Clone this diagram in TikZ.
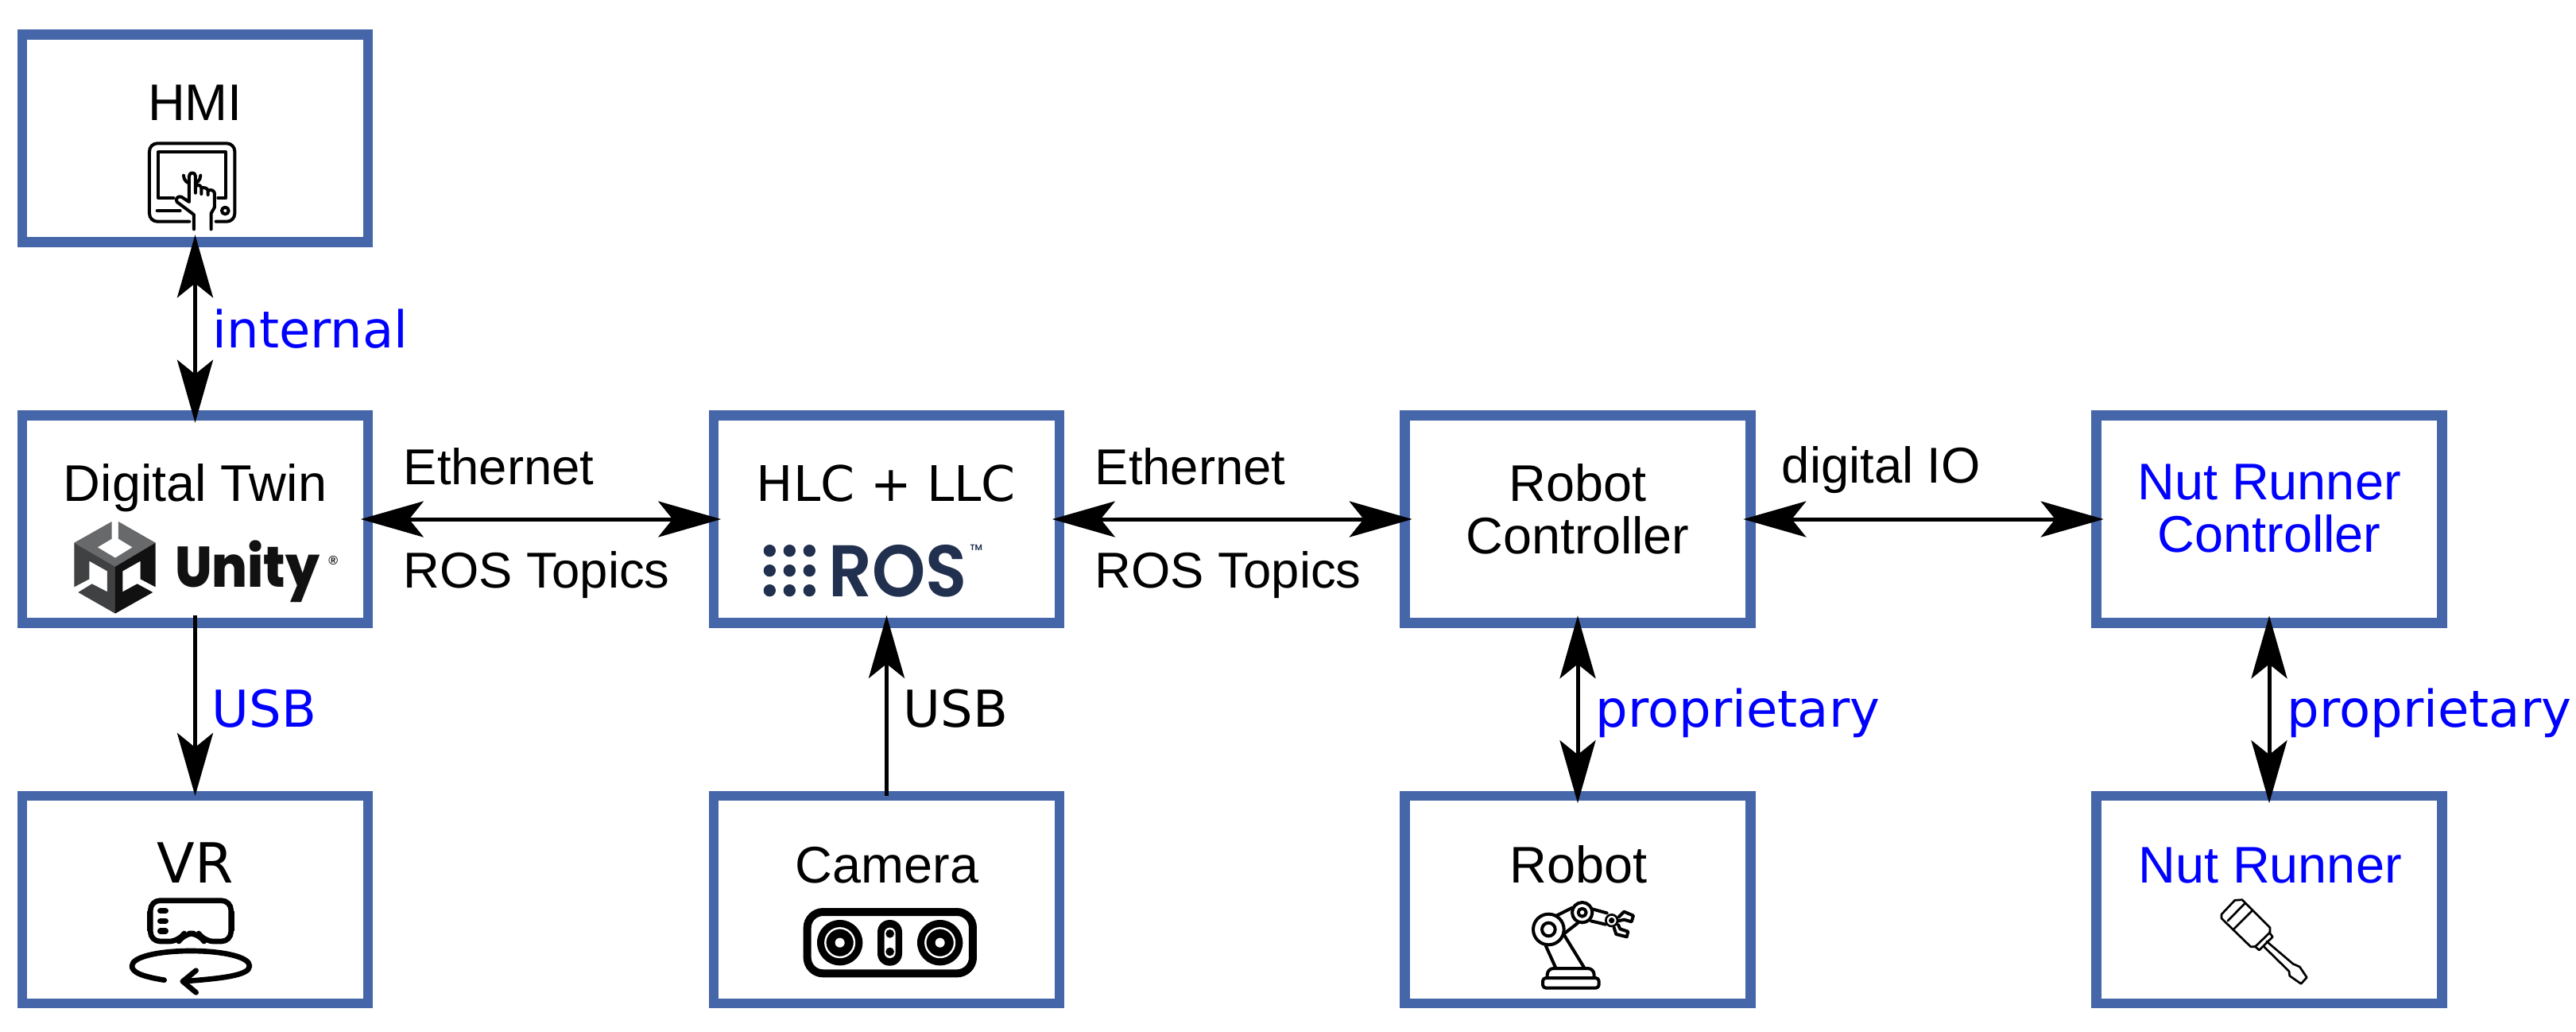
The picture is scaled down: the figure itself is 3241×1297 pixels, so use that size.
\documentclass[tikz,border=0pt]{standalone}
\usepackage{fontspec}
\usepackage{xcolor}
\usetikzlibrary{arrows.meta}
\setmainfont{Liberation Sans}
\newfontfamily\dejavu{DejaVu Sans}
\newfontfamily\unityfont{Poppins ExtraBold}
\newfontfamily\rosfont{Poppins SemiBold}
\definecolor{boxblue}{HTML}{4666AA}
\definecolor{rosblue}{HTML}{22304F}
\definecolor{unitytop}{HTML}{68696B}
\definecolor{unityleft}{HTML}{404143}
\definecolor{unityright}{HTML}{111111}
\newcommand{\sized}[1]{\fontsize{#1}{16.5}\selectfont}
\tikzset{
    boxnode/.style={draw=boxblue, line width=3.125pt, minimum width=108.75pt, minimum height=65.25pt, inner sep=0pt, outer sep=0pt},
    boxtext/.style={inner sep=0pt, anchor=base, font=\sized{16.2}},
    linktext/.style={inner sep=0pt, anchor=base west, font=\sized{15.85}},
    vera/.style={font=\dejavu\sized{16}},
    pending/.style={text=blue},
    link/.style={line width=1.25pt, shorten <=-2.3pt, shorten >=-2.3pt,
        {Stealth[length=19.75pt,width=11.25pt,inset=4.5pt]}-{Stealth[length=19.75pt,width=11.25pt,inset=4.5pt]}},
    uplink/.style={line width=1.25pt, shorten >=-2.4pt, -{Stealth[length=19.75pt,width=11.25pt,inset=4.5pt]}},
    downlink/.style={line width=1.25pt, shorten <=-2.4pt, -{Stealth[length=19.75pt,width=11.25pt,inset=4.5pt]}},
    crop/.style 2 args={shift={(#1,#2)}, x=0.083333pt, y=-0.083333pt},
    icon/.style={line width=#1*0.083333pt, line cap=round, line join=round},
}

\begin{document}
\begin{tikzpicture}[x=0.25pt, y=-0.25pt]
        \useasboundingbox (0,0) rectangle (3241,1297);

        \node[boxnode] (hmi) at (245.5,174) {};
        \node[boxnode] (twin) at (245.5,653) {};
        \node[boxnode] (hlc) at (1115.5,653) {};
        \node[boxnode] (ctrl) at (1985,653) {};
        \node[boxnode] (nutctrl) at (2855,653) {};
        \node[boxnode] (vr) at (245.5,1131.5) {};
        \node[boxnode] (cam) at (1115.5,1131.5) {};
        \node[boxnode] (robot) at (1985,1131.5) {};
        \node[boxnode] (nut) at (2855,1131.5) {};

        \node[boxtext] (hmitext) at (245.5,151.5) {HMI};
        \node[boxtext] (twintext) at (245.5,630.5) {Digital Twin};
        \node[boxtext, font=\dejavu\sized{15.4}] (hlctext) at (1115,630.5) {HLC + LLC};
        \node[boxtext, font=\dejavu\sized{17.4}] (vrtext) at (245.5,1110) {VR};
        \node[boxtext] (camtext) at (1116,1110) {Camera};
        \node[boxtext] (robottext) at (1986,1110) {Robot};
        \node[boxtext, pending] (nuttext) at (2856,1110) {Nut Runner};
        \node[inner sep=0pt, align=center, font=\sized{16.2}] (ctrltext) at (1985,640) {Robot\\Controller};
        \node[inner sep=0pt, align=center, font=\sized{16.2}, pending] (nutctrltext) at (2855,640) {Nut Runner\\Controller};

        \draw[link] (hmi.south) -- (twin.north);
        \draw[downlink] (twin.south) -- (vr.north);
        \draw[uplink] (cam.north) -- (hlc.south);
        \draw[link] (ctrl.south) -- (robot.north);
        \draw[link] (nutctrl.south) -- (nut.north);
        \draw[link] (twin.east) -- (hlc.west);
        \draw[link] (hlc.east) -- (ctrl.west);
        \draw[link] (ctrl.east) -- (nutctrl.west);

        \node[linktext, vera, pending] (internal) at (267,437) {internal};
        \node[linktext, vera, pending] (vrusb) at (266,914) {USB};
        \node[linktext, vera] (camusb) at (1136,914) {USB};
        \node[linktext, vera, pending] (robotbus) at (2007,914) {proprietary};
        \node[linktext, vera, pending] (nutbus) at (2877,914) {proprietary};
        \node[linktext] (eth1) at (507,609) {Ethernet};
        \node[linktext] (topics1) at (507,739) {ROS Topics};
        \node[linktext] (eth2) at (1377,609) {Ethernet};
        \node[linktext] (topics2) at (1377,739) {ROS Topics};
        \node[linktext] (dio) at (2241,607) {digital IO};

        % touch panel
        \begin{scope}[crop={0}{20}, icon=12]
            \draw[rounded corners=2.5pt] (715,776) -- (564,776) -- (564,481) -- (886,481) -- (886,776) -- (815,776);
            \draw (655,687) -- (597,687) -- (597,513) -- (853,513) -- (853,687) -- (823,687);
            \draw (593,735) -- (680,735);
            \draw (850,735) circle [radius=13];
            \draw (693,602) arc (180:0:32);
            \draw[fill=white, line join=round] (732,805) -- (732,750) -- (668,702) .. controls (660,690) and (672,678) .. (685,683) -- (714,702) -- (714,605) .. controls (714,588) and (738,588) .. (738,605) -- (738,668) -- (738,645) .. controls (745,632) and (760,640) .. (760,650) -- (760,672) -- (760,650) .. controls (768,645) and (785,650) .. (785,660) -- (785,675) -- (785,660) .. controls (795,652) and (810,660) .. (810,670) -- (810,722) -- (797,745) -- (797,805);
        \end{scope}

        % cube and word mark
        \begin{scope}[crop={0}{500}]
            \fill[unitytop] (280,548) -- (422,468) -- (422,533) -- (368,565) -- (435,605) -- (500,565) -- (447,533) -- (447,468) -- (587,548) -- (435,638) -- cycle;
            \fill[unityleft] (280,548) -- (435,638) -- (435,815) -- (295,735) -- (347,703) -- (405,733) -- (405,655) -- (337,617) -- (337,685) -- (280,715) -- cycle;
            \fill[unityright] (587,548) -- (435,638) -- (435,815) -- (577,735) -- (518,703) -- (463,733) -- (463,655) -- (530,617) -- (530,685) -- (587,715) -- cycle;
            \node[inner sep=0pt, anchor=base west, xscale=0.91, text=unityright, font=\unityfont\sized{18}] (unity) at (658,715) {Unity};
            \node[inner sep=0pt, anchor=center, text=unityright, font=\bfseries\sized{4}] (unityreg) at (1258,614) {®};
        \end{scope}

        % nine dots and word mark
        \begin{scope}[crop={880}{500}]
            \foreach \dotx in {265,340,415}
                \foreach \doty in {578,653,728}
                    \fill[rosblue] (\dotx,\doty) circle [radius=23];
            \node[inner sep=0pt, anchor=base west, xscale=0.93, text=rosblue, font=\rosfont\sized{23}] (ros) at (485,752) {ROS};
            \node[inner sep=0pt, anchor=center, text=rosblue, font=\rosfont\sized{2.6}] (rostm) at (1045,568) {TM};
        \end{scope}

        % headset with turn arrow
        \begin{scope}[crop={0}{980}, icon=20]
            \draw[rounded corners=3pt] (568,458) -- (872,458) -- (872,612) -- (770,612) -- (750,582) -- (695,582) -- (675,612) -- (568,612) -- cycle;
            \fill (555,497) rectangle (568,573);
            \fill (872,497) rectangle (885,573);
            \draw[icon=22] (605,497) -- (625,497) (605,535) -- (625,535) (605,573) -- (625,573);
            \draw (620,758) .. controls (540,745) and (498,730) .. (498,705) .. controls (498,670) and (600,648) .. (720,648) .. controls (840,648) and (942,670) .. (942,705) .. controls (942,740) and (840,752) .. (690,763);
            \draw (740,722) -- (690,763) -- (740,805);
        \end{scope}

        % stereo camera
        \begin{scope}[crop={880}{980}]
            \draw[line width=2.5pt, rounded corners=5pt] (407,501) rectangle (1032,733);
            \foreach \lensx in {530,908} {
                \fill (\lensx,617) circle [radius=86];
                \draw[white, line width=0.6pt] (\lensx,617) circle [radius=55];
                \fill[white] (\lensx,617) circle [radius=18];
            }
            \fill[rounded corners=3.8pt] (672,531) rectangle (765,704);
            \fill[white, rounded corners=1.7pt] (698,560) rectangle (740,675);
            \fill (719,583) circle [radius=16];
            \fill (719,651) circle [radius=16];
        \end{scope}

        % robot arm
        \begin{scope}[crop={1750}{980}, icon=12]
            \draw[rounded corners=1pt] (573,750) rectangle (785,788);
            \draw[rounded corners=2pt] (590,750) -- (590,714) -- (767,714) -- (767,750);
            \draw (585,630) -- (622,712) (655,590) -- (730,712);
            \draw (595,567) circle [radius=58] (595,567) circle [radius=25];
            \draw (625,515) -- (685,485) (655,582) -- (705,543);
            \draw (722,503) circle [radius=38] (722,503) circle [radius=15];
            \draw (760,490) -- (815,505) (755,535) -- (810,548);
            \draw[icon=8] (833,533) circle [radius=22];
            \fill (833,533) circle [radius=11];
            \draw (860,520) -- (880,500) -- (915,515) -- (908,538) -- (880,530) -- (858,535);
            \draw (842,560) -- (850,585) -- (890,595) -- (895,575) -- (865,565) -- (858,550);
        \end{scope}

        % screwdriver
        \begin{scope}[crop={2620}{980}, icon=8]
            \draw (525,510) -- (575,457) -- (603,455) -- (708,560) -- (708,578) -- (652,632) -- (635,632) -- (540,540) -- (525,525) -- cycle;
            \draw (548,535) -- (612,470) (572,565) -- (640,497);
            \draw (650,630) -- (667,645) -- (718,595) -- (705,578);
            \draw (683,630) -- (780,725) -- (782,742) -- (825,772) -- (847,748) -- (820,708) -- (795,697) -- (695,612);
        \end{scope}
\end{tikzpicture}
\end{document}
